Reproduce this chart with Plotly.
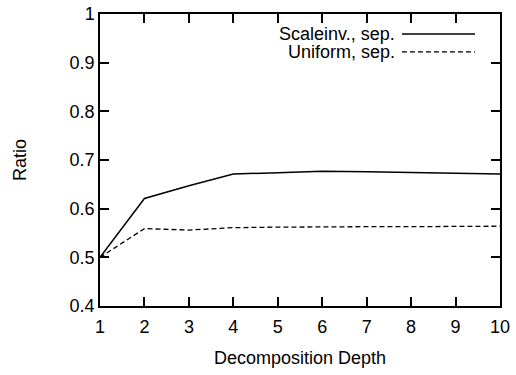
import plotly.graph_objects as go

depth = [1, 2, 3, 4, 5, 6, 7, 8, 9, 10]
scaleinv_sep = [0.500, 0.621, 0.647, 0.671, 0.674, 0.677, 0.676, 0.675, 0.673, 0.671]
uniform_sep = [0.500, 0.559, 0.556, 0.561, 0.562, 0.563, 0.563, 0.563, 0.564, 0.564]
names = ["Scaleinv., sep.", "Uniform, sep."]

FONT = "Liberation Sans, Arial, sans-serif"
FS = 18

fig = go.Figure()
fig.add_trace(go.Scatter(x=depth, y=scaleinv_sep, mode="lines", name=names[0],
                         line=dict(color="black", width=1.5), showlegend=False))
fig.add_trace(go.Scatter(x=depth, y=uniform_sep, mode="lines", name=names[1],
                         line=dict(color="black", width=1.3, dash="5px,3px"), showlegend=False))

# manual gnuplot-style legend (text right-aligned, sample line on right)
leg_y = [0.9315, 0.87]
dashes = ["solid", "5px,3px"]
for nm, yy, d in zip(names, leg_y, dashes):
    fig.add_annotation(x=0.7425, y=yy, xref="paper", yref="paper", text=nm,
                       showarrow=False, xanchor="right", yanchor="middle",
                       font=dict(family=FONT, size=FS, color="black"))
    fig.add_shape(type="line", xref="paper", yref="paper", x0=0.755, x1=0.9375,
                  y0=yy, y1=yy, line=dict(color="black", width=1.5 if d == "solid" else 1.3, dash=d))

axis_common = dict(showline=True, linecolor="black", linewidth=1.5, mirror="ticks",
                   ticks="inside", ticklen=9, tickwidth=1.5, tickcolor="black",
                   showgrid=False, zeroline=False, automargin=False,
                   tickfont=dict(family=FONT, size=FS, color="black"))

fig.update_xaxes(range=[1, 10], dtick=1, tick0=1, ticklabelstandoff=4,
                 title=dict(text="Decomposition Depth", standoff=15,
                            font=dict(family=FONT, size=FS, color="black")),
                 **axis_common)
fig.update_yaxes(range=[0.4, 1.0], dtick=0.1, tick0=0.4,
                 title=dict(text="Ratio", standoff=38,
                            font=dict(family=FONT, size=FS, color="black")),
                 **axis_common)

fig.update_layout(width=516, height=375, margin=dict(l=100, r=16, t=14, b=69),
                  plot_bgcolor="white", paper_bgcolor="white",
                  font=dict(family=FONT, size=FS, color="black"))

fig.write_html("out.html")
